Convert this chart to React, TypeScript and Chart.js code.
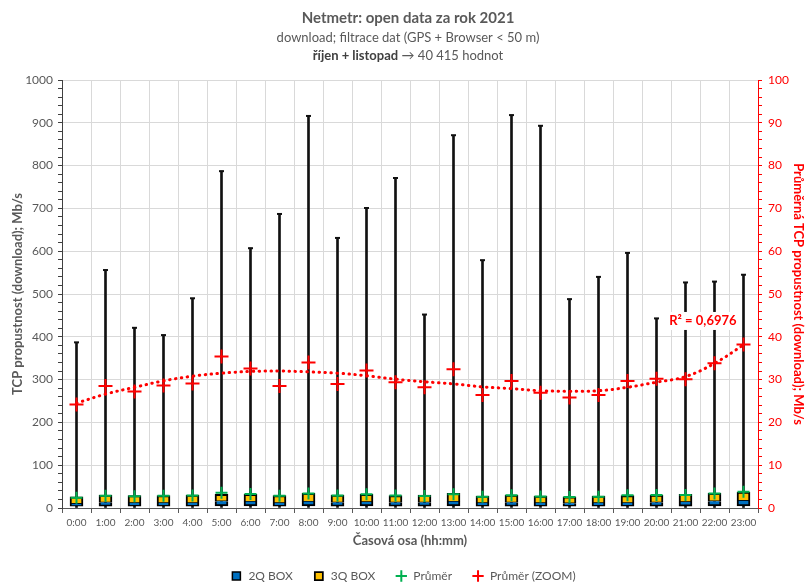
import React, { useEffect, useRef } from 'react';
import { Chart, registerables } from 'chart.js';

Chart.register(...registerables);

const FONT = 'Lato, "Open Sans", "DejaVu Sans", sans-serif';
Chart.defaults.font.family = FONT;
Chart.defaults.color = '#595959';

const hours = ['0:00', '1:00', '2:00', '3:00', '4:00', '5:00', '6:00', '7:00', '8:00', '9:00', '10:00', '11:00', '12:00', '13:00', '14:00', '15:00', '16:00', '17:00', '18:00', '19:00', '20:00', '21:00', '22:00', '23:00'];

const minValues = [0, 0, 0, 0, 0, 0, 0, 0, 0, 0, 0, 0, 0, 0, 0, 0, 0, 0, 0, 0, 0, 0, 0, 0];
const maxValues = [387, 556, 421, 404, 490, 787, 607, 687, 916, 631, 701, 771, 452, 871, 579, 918, 893, 488, 540, 596, 443, 527, 529, 545];
const q1Values = [4, 4, 4, 4, 4, 5, 5, 4, 5, 4, 5, 4, 4, 5, 4, 4, 4, 4, 4, 4, 4, 4, 5, 5];
const medianValues = [10, 13, 12, 12, 12, 16, 15, 12, 15, 13, 14, 13, 13, 15, 12, 13, 12, 11, 12, 12, 13, 14, 16, 17];
const q3Values = [26, 30, 29, 29, 30, 32, 32, 29, 34, 30, 32, 29, 30, 34, 28, 30, 28, 26, 28, 29, 30, 32, 34, 37];
const meanValues = [24.2, 28.5, 27.2, 28.6, 29.1, 35.4, 32.6, 28.5, 34.0, 29.0, 32.1, 29.4, 28.2, 32.4, 26.4, 29.7, 26.9, 25.8, 26.4, 29.7, 30.2, 30.1, 33.8, 38.2];
const trendValues = [24.5, 26.6, 28.2, 29.7, 30.8, 31.5, 31.9, 32.0, 31.8, 31.5, 30.9, 30.1, 29.5, 29.0, 28.3, 27.9, 27.4, 27.3, 27.4, 28.2, 29.4, 30.7, 33.8, 38.1];

const titleLine1 = 'Netmetr: open data za rok 2021';
const titleLine2 = 'download; filtrace dat (GPS + Browser < 50 m)';
const titleLine3Bold = 'říjen + listopad';
const titleLine3Rest = ' → 40 415 hodnot';
const r2Text = 'R² = 0,6976';

const titlePlugin = {
  id: 'customTitle',
  afterDraw(chart: any) {
    const ctx = chart.ctx;
    const cx = 408;
    ctx.save();
    ctx.textBaseline = 'middle';
    ctx.fillStyle = '#595959';
    ctx.textAlign = 'center';
    ctx.font = `bold 15px ${FONT}`;
    ctx.fillText(titleLine1, cx, 18);
    ctx.font = `13px ${FONT}`;
    ctx.fillText(titleLine2, cx, 38);
    ctx.textAlign = 'left';
    ctx.font = `bold 13px ${FONT}`;
    const w1 = ctx.measureText(titleLine3Bold).width;
    ctx.font = `13px ${FONT}`;
    const w2 = ctx.measureText(titleLine3Rest).width;
    const x0 = cx - (w1 + w2) / 2;
    ctx.font = `bold 13px ${FONT}`;
    ctx.fillStyle = '#404040';
    ctx.fillText(titleLine3Bold, x0, 56);
    ctx.font = `13px ${FONT}`;
    ctx.fillStyle = '#595959';
    ctx.fillText(titleLine3Rest, x0 + w1, 56);

    // R² label of the trendline
    const xs = chart.scales.x;
    const yr = chart.scales.y1;
    const px = xs.getPixelForValue(21.6);
    const py = yr.getPixelForValue(43.7);
    ctx.font = `bold 13px ${FONT}`;
    const tw = ctx.measureText(r2Text).width;
    ctx.fillStyle = '#ffffff';
    ctx.fillRect(px - tw / 2 - 3, py - 9, tw + 6, 18);
    ctx.fillStyle = '#FF0000';
    ctx.textAlign = 'center';
    ctx.fillText(r2Text, px, py);
    ctx.restore();
  },
};

export default function App() {
  const ref = useRef<HTMLCanvasElement>(null);

  useEffect(() => {
    const chart = new Chart(ref.current as HTMLCanvasElement, {
      type: 'bar',
      data: {
        labels: hours,
        datasets: [
          {
            label: '2Q BOX',
            type: 'bar',
            data: hours.map((_, i) => [q1Values[i], medianValues[i]]),
            backgroundColor: '#0070C0',
            borderColor: '#000000',
            borderWidth: { top: 0, left: 2, right: 2, bottom: 2 },
            borderSkipped: false,
            barThickness: 13,
            grouped: false,
            pointStyle: 'rect',
            order: 4,
            yAxisID: 'y',
          } as any,
          {
            label: '3Q BOX',
            type: 'bar',
            data: hours.map((_, i) => [medianValues[i], q3Values[i]]),
            backgroundColor: '#FFC000',
            borderColor: '#000000',
            borderWidth: { top: 2, left: 2, right: 2, bottom: 1 },
            borderSkipped: false,
            barThickness: 13,
            grouped: false,
            pointStyle: 'rect',
            order: 4,
            yAxisID: 'y',
          } as any,
          {
            label: 'Průměr',
            type: 'line',
            data: meanValues,
            yAxisID: 'y',
            showLine: false,
            pointStyle: 'cross',
            pointRadius: 6,
            pointBorderWidth: 2,
            pointBorderColor: '#00B050',
            pointBackgroundColor: '#00B050',
            borderColor: '#00B050',
            backgroundColor: '#00B050',
            borderWidth: 2,
            order: 2,
          } as any,
          {
            label: 'Průměr (ZOOM)',
            type: 'line',
            data: meanValues,
            yAxisID: 'y1',
            showLine: false,
            pointStyle: 'cross',
            pointRadius: 7,
            pointBorderWidth: 2,
            pointBorderColor: '#FF0000',
            pointBackgroundColor: '#FF0000',
            borderColor: '#FF0000',
            backgroundColor: '#FF0000',
            borderWidth: 2,
            order: 0,
          } as any,
          {
            label: '_whisker',
            type: 'bar',
            data: hours.map((_, i) => [minValues[i], maxValues[i]]),
            backgroundColor: '#111111',
            borderWidth: 0,
            barThickness: 2,
            grouped: false,
            order: 6,
            yAxisID: 'y',
          } as any,
          {
            label: '_cap',
            type: 'line',
            data: maxValues,
            yAxisID: 'y',
            showLine: false,
            pointStyle: 'line',
            pointRadius: 2.5,
            pointBorderWidth: 2,
            pointBorderColor: '#111111',
            borderColor: '#111111',
            order: 5,
          } as any,
          {
            label: '_trend',
            type: 'line',
            data: trendValues,
            yAxisID: 'y1',
            borderColor: '#FF0000',
            borderWidth: 3,
            borderDash: [0.5, 5.5],
            borderCapStyle: 'round',
            pointRadius: 0,
            tension: 0.4,
            fill: false,
            order: 1,
          } as any,
        ],
      },
      options: {
        responsive: false,
        animation: false,
        events: [],
        devicePixelRatio: 1,
        layout: { padding: { top: 80, left: 0, right: 0, bottom: -9 } },
        plugins: {
          title: { display: false },
          tooltip: { enabled: false },
          legend: {
            position: 'bottom',
            labels: {
              usePointStyle: true,
              boxHeight: 8,
              padding: 20,
              color: '#595959',
              font: { size: 12, family: FONT },
              filter: (item: any) => !String(item.text).startsWith('_'),
              sort: (a: any, b: any) => a.datasetIndex - b.datasetIndex,
            },
          },
        },
        scales: {
          x: {
            offset: true,
            grid: { offset: true, color: '#d9d9d9', tickColor: '#595959', tickLength: 5 },
            border: { color: '#595959', width: 1 },
            ticks: { autoSkip: false, maxRotation: 0, minRotation: 0, font: { size: 10 }, padding: 4, color: '#595959' },
            title: {
              display: true,
              text: 'Časová osa (hh:mm)',
              color: '#595959',
              font: { size: 13, weight: 'bold', lineHeight: 1 },
              padding: { top: 0, bottom: 3 },
            },
            afterFit: (s: any) => { s.height = 42; },
          },
          y: {
            position: 'left',
            min: 0,
            max: 1000,
            ticks: {
              stepSize: 20,
              autoSkip: false,
              callback: (v: any) => (Number(v) % 100 === 0 ? String(v) : ''),
              font: { size: 12 },
              padding: 5,
              color: '#595959',
            },
            grid: {
              color: (c: any) => (c.tick && c.tick.value % 100 === 0 ? '#d9d9d9' : 'rgba(0,0,0,0)'),
              tickColor: '#404040',
              tickLength: 4,
            },
            border: { color: '#404040' },
            title: {
              display: true,
              text: 'TCP propustnost (download); Mb/s',
              color: '#595959',
              font: { size: 13, weight: 'bold', lineHeight: 1 },
              padding: { top: 11, bottom: 0 },
            },
            afterFit: (s: any) => { s.width = 62; },
          },
          y1: {
            position: 'right',
            min: 0,
            max: 100,
            ticks: {
              stepSize: 2,
              autoSkip: false,
              callback: (v: any) => (Number(v) % 10 === 0 ? String(v) : ''),
              font: { size: 12 },
              padding: 6,
              color: '#FF0000',
            },
            grid: { drawOnChartArea: false, tickColor: '#FF0000', tickLength: 4 },
            border: { color: '#FF0000' },
            title: {
              display: true,
              text: 'Průměrná TCP propustnost (download); Mb/s',
              color: '#FF0000',
              font: { size: 13, weight: 'bold', lineHeight: 1 },
              padding: { top: 1, bottom: 0 },
            },
            afterFit: (s: any) => { s.width = 48; },
          },
        },
      } as any,
      plugins: [titlePlugin],
    });
    return () => chart.destroy();
  }, []);

  return (
    <div style={{ position: 'absolute', left: 0, top: 0, width: 806, height: 583, background: '#ffffff', overflow: 'hidden' }}>
      <canvas ref={ref} width={806} height={583} style={{ display: 'block', width: 806, height: 583 }} />
    </div>
  );
}
